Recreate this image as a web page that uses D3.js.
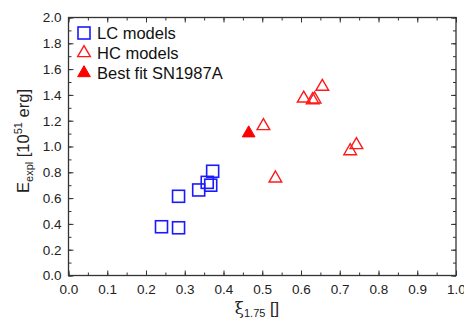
<!DOCTYPE html>
<html><head><meta charset="utf-8">
<script src="https://cdn.jsdelivr.net/npm/d3@7"></script>
<style>body{margin:0;background:#fff}text{font-family:"Liberation Sans",Arial,sans-serif}</style>
</head><body><svg id="c" width="464" height="320"></svg>
<script>
const lcX = [0.240, 0.284, 0.284, 0.336, 0.358, 0.367, 0.372];
const lcY = [0.378, 0.370, 0.614, 0.663, 0.722, 0.700, 0.808];
const hcX = [0.503, 0.607, 0.630, 0.635, 0.655, 0.727, 0.743, 0.534];
const hcY = [1.159, 1.373, 1.360, 1.366, 1.464, 0.965, 1.012, 0.753];
const bestX = [0.465];
const bestY = [1.103];
const xTicks = [0,0.1,0.2,0.3,0.4,0.5,0.6,0.7,0.8,0.9,1.0];
const yTicks = [0,0.2,0.4,0.6,0.8,1.0,1.2,1.4,1.6,1.8,2.0];
const legendLabels = ["LC models","HC models","Best fit SN1987A"];

const svg = d3.select("#c");
const L=68.5, R=456, T=17.5, B=275.5;
const x = d3.scaleLinear().domain([0,1]).range([L,R]);
const y = d3.scaleLinear().domain([0,2]).range([B,T]);
const axisCol = "#333";

const xMinor = d3.range(0,1.0001,0.05);
const yMinor = d3.range(0,2.0001,0.1);

function styleAxis(g){
  g.select(".domain").remove();
  g.selectAll("line").attr("stroke",axisCol).attr("stroke-width",1);
  g.selectAll("text").attr("fill","#222").style("font-size","13.5px");
}
// bottom
svg.append("g").attr("transform",`translate(0,${B})`)
  .call(d3.axisBottom(x).tickValues(xMinor).tickSize(-3).tickFormat(""))
  .call(styleAxis);
svg.append("g").attr("transform",`translate(0,${B})`)
  .call(d3.axisBottom(x).tickValues(xTicks).tickSize(-5).tickPadding(9).tickFormat(d3.format(".1f")))
  .call(styleAxis);
// top
svg.append("g").attr("transform",`translate(0,${T})`)
  .call(d3.axisTop(x).tickValues(xMinor).tickSize(-3).tickFormat(""))
  .call(styleAxis);
svg.append("g").attr("transform",`translate(0,${T})`)
  .call(d3.axisTop(x).tickValues(xTicks).tickSize(-5).tickFormat(""))
  .call(styleAxis);
// left
svg.append("g").attr("transform",`translate(${L},0)`)
  .call(d3.axisLeft(y).tickValues(yMinor).tickSize(-3).tickFormat(""))
  .call(styleAxis);
svg.append("g").attr("transform",`translate(${L},0)`)
  .call(d3.axisLeft(y).tickValues(yTicks).tickSize(-5).tickPadding(7).tickFormat(d3.format(".1f")))
  .call(styleAxis);
// right
svg.append("g").attr("transform",`translate(${R},0)`)
  .call(d3.axisRight(y).tickValues(yMinor).tickSize(-3).tickFormat(""))
  .call(styleAxis);
svg.append("g").attr("transform",`translate(${R},0)`)
  .call(d3.axisRight(y).tickValues(yTicks).tickSize(-5).tickFormat(""))
  .call(styleAxis);

svg.append("rect").attr("x",L).attr("y",T).attr("width",R-L).attr("height",B-T)
  .attr("fill","none").attr("stroke",axisCol).attr("stroke-width",1.3);

const sq = 12;
svg.append("g").selectAll("rect").data(lcX.map((d,i)=>[d,lcY[i]])).join("rect")
  .attr("x",d=>x(d[0])-sq/2).attr("y",d=>y(d[1])-sq/2).attr("width",sq).attr("height",sq)
  .attr("fill","none").attr("stroke","#1a1aff").attr("stroke-width",1.6);

const tri = d3.symbol().type(d3.symbolTriangle).size(70);
svg.append("g").selectAll("path").data(hcX.map((d,i)=>[d,hcY[i]])).join("path")
  .attr("d",tri).attr("transform",d=>`translate(${x(d[0])},${y(d[1])})`)
  .attr("fill","none").attr("stroke","#ff1a1a").attr("stroke-width",1.4);
svg.append("g").selectAll("path").data(bestX.map((d,i)=>[d,bestY[i]])).join("path")
  .attr("d",tri).attr("transform",d=>`translate(${x(d[0])},${y(d[1])})`)
  .attr("fill","#ff0000").attr("stroke","#ff0000").attr("stroke-width",1);

// legend
const lg = svg.append("g");
const ly = [33, 53, 73];
lg.append("rect").attr("x",78).attr("y",ly[0]-6).attr("width",12).attr("height",12)
  .attr("fill","none").attr("stroke","#1a1aff").attr("stroke-width",1.6);
lg.append("path").attr("d",tri).attr("transform",`translate(84,${ly[1]})`)
  .attr("fill","none").attr("stroke","#ff1a1a").attr("stroke-width",1.4);
lg.append("path").attr("d",tri).attr("transform",`translate(84,${ly[2]})`)
  .attr("fill","#ff0000").attr("stroke","#ff0000");
lg.selectAll("text").data(legendLabels).join("text")
  .attr("x",97).attr("y",(d,i)=>ly[i]+5.5).text(d=>d)
  .style("font-size","16.5px").attr("fill","#111");

// axis titles
const yt = svg.append("text").attr("transform","translate(29,141) rotate(-90)")
  .attr("text-anchor","middle").style("font-size","16.5px").attr("fill","#222");
yt.append("tspan").text("E");
yt.append("tspan").text("expl").style("font-size","11px").attr("dy",4);
yt.append("tspan").text(" [10").attr("dy",-4);
yt.append("tspan").text("51").style("font-size","11px").attr("dy",-7);
yt.append("tspan").text(" erg]").attr("dy",7);

const xt = svg.append("text").attr("x",257).attr("y",314)
  .attr("text-anchor","middle").style("font-size","16.5px").attr("fill","#222");
xt.append("tspan").text("ξ").style("font-family","DejaVu Serif");
xt.append("tspan").text("1.75").style("font-size","11px").attr("dy",3);
xt.append("tspan").text(" []").attr("dy",-3);
</script></body></html>
